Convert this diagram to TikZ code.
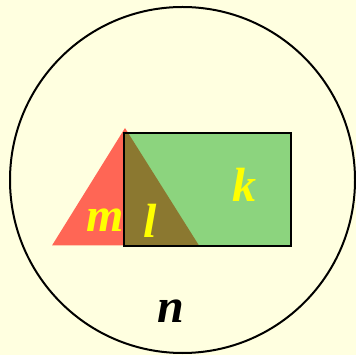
\documentclass[tikz,border=0pt]{standalone}
\usepackage{fontspec}
\setmainfont{Liberation Serif}
\definecolor{bg}{HTML}{FFFFE0}
\definecolor{tri}{HTML}{FF6655}
\definecolor{rec}{HTML}{8CD47E}
\definecolor{ovl}{HTML}{8B7830}
\definecolor{lab}{HTML}{FFFF00}
\begin{document}
\begin{tikzpicture}[x=1pt,y=-1pt,
  lbl/.style={font=\fontsize{48}{48}\selectfont\bfseries\itshape, inner sep=0pt, anchor=base},
  ylbl/.style={lbl, text=lab},
  outline/.style={line width=2pt}]
\fill[bg] (0,0) rectangle (356,355);
\useasboundingbox (0,0) rectangle (356,355);
\draw[outline] (182.5,180) ellipse [x radius=172.5, y radius=173];
\coordinate (A) at (52,245.5);
\coordinate (B) at (125,128);
\coordinate (C) at (199,245.5);
\fill[tri] (A) -- (B) -- (C) -- cycle;
\fill[rec] (123.5,133.5) rectangle (290.5,246);
\begin{scope}
\clip (123.5,133.5) rectangle (290.5,246);
\fill[ovl] (A) -- (B) -- (C) -- cycle;
\end{scope}
\draw[outline] (123.5,133.5) rectangle (290.5,246);
\node[ylbl] (m) at (105,232) {m};
\node[ylbl] (l) at (150,238) {l};
\node[ylbl] (k) at (244,202) {k};
\node[lbl] (n) at (171,323) {n};
\end{tikzpicture}
\end{document}
